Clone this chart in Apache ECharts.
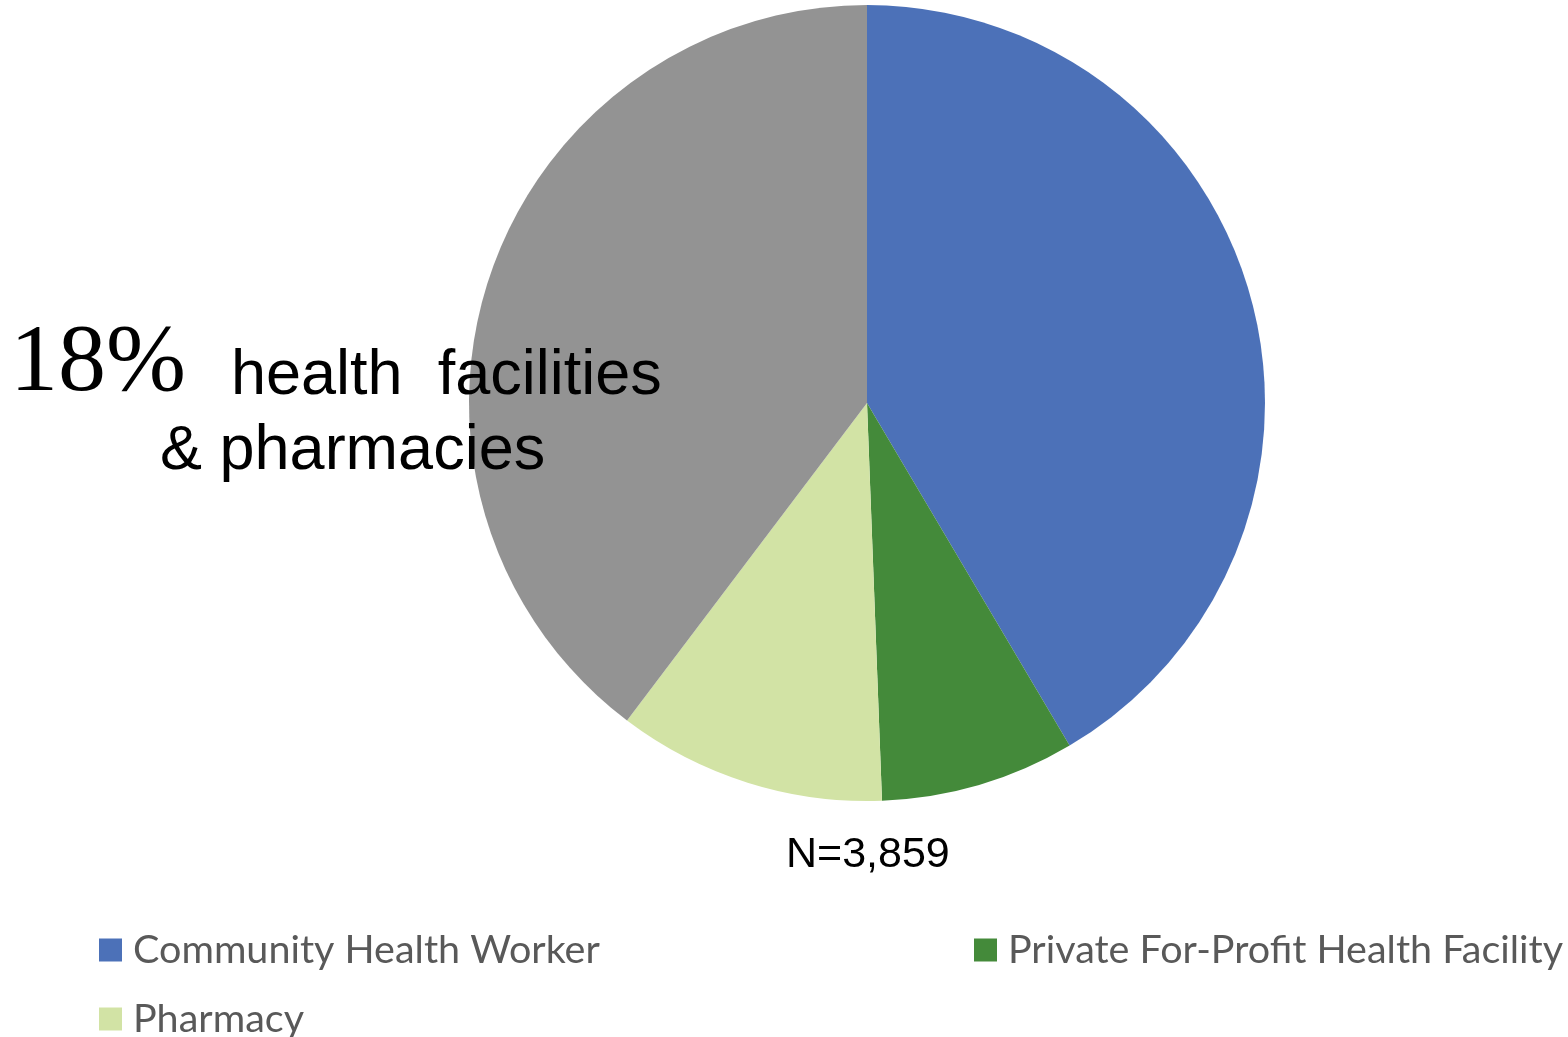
<!DOCTYPE html>
<html>
<head>
<meta charset="utf-8">
<script src="https://cdn.jsdelivr.net/npm/echarts@6/dist/echarts.min.js"></script>
<style>
  html, body { margin: 0; padding: 0; background: #fff; }
  #main { width: 1568px; height: 1037px; }
</style>
</head>
<body>
<div id="main"></div>
<script>
// slice names and shares (%), clockwise from 12 o'clock
const sliceNames = ['Community Health Worker', 'Private For-Profit Health Facility', 'Pharmacy', 'Other'];
const sliceValues = [41.5, 7.9, 10.9, 39.7];
const sliceColors = ['#4c71b8', '#448a3a', '#d2e3a5', '#939393'];

const chart = echarts.init(document.getElementById('main'));

const legendText = { fontFamily: 'Lato', fontSize: 39.5, color: '#595959', padding: [0, 0, 0, 6] };
function legendAt(name, left, top) {
  return {
    data: [name], left: left, top: top, icon: 'rect',
    itemWidth: 23, itemHeight: 23, itemGap: 0, padding: 0,
    selectedMode: false, textStyle: legendText
  };
}

const option = {
  animation: false,
  backgroundColor: '#fff',
  legend: [
    legendAt(sliceNames[0], 99, 930),
    legendAt(sliceNames[1], 974, 930),
    legendAt(sliceNames[2], 99, 999)
  ],
  graphic: [
    { type: 'text', z: 100, left: 10, top: 317, style: { text: '18%', font: '96px "Liberation Serif"', fill: '#000' } },
    { type: 'text', z: 100, left: 231, top: 345, style: { text: 'health  facilities', font: '63px "Liberation Sans"', fill: '#000' } },
    { type: 'text', z: 100, left: 160, top: 420, style: { text: '& pharmacies', font: '63px "Liberation Sans"', fill: '#000' } },
    { type: 'text', z: 100, left: 786, top: 834, style: { text: 'N=3,859', font: '43px "Liberation Sans"', fill: '#000' } }
  ],
  series: [{
    type: 'pie',
    z: 1,
    center: [867, 403],
    radius: 398,
    startAngle: 90,
    clockwise: true,
    label: { show: false },
    labelLine: { show: false },
    emphasis: { disabled: true },
    itemStyle: { borderWidth: 0 },
    data: sliceNames.map((n, i) => ({ name: n, value: sliceValues[i], itemStyle: { color: sliceColors[i] } }))
  }]
};
chart.setOption(option);
</script>
</body>
</html>
